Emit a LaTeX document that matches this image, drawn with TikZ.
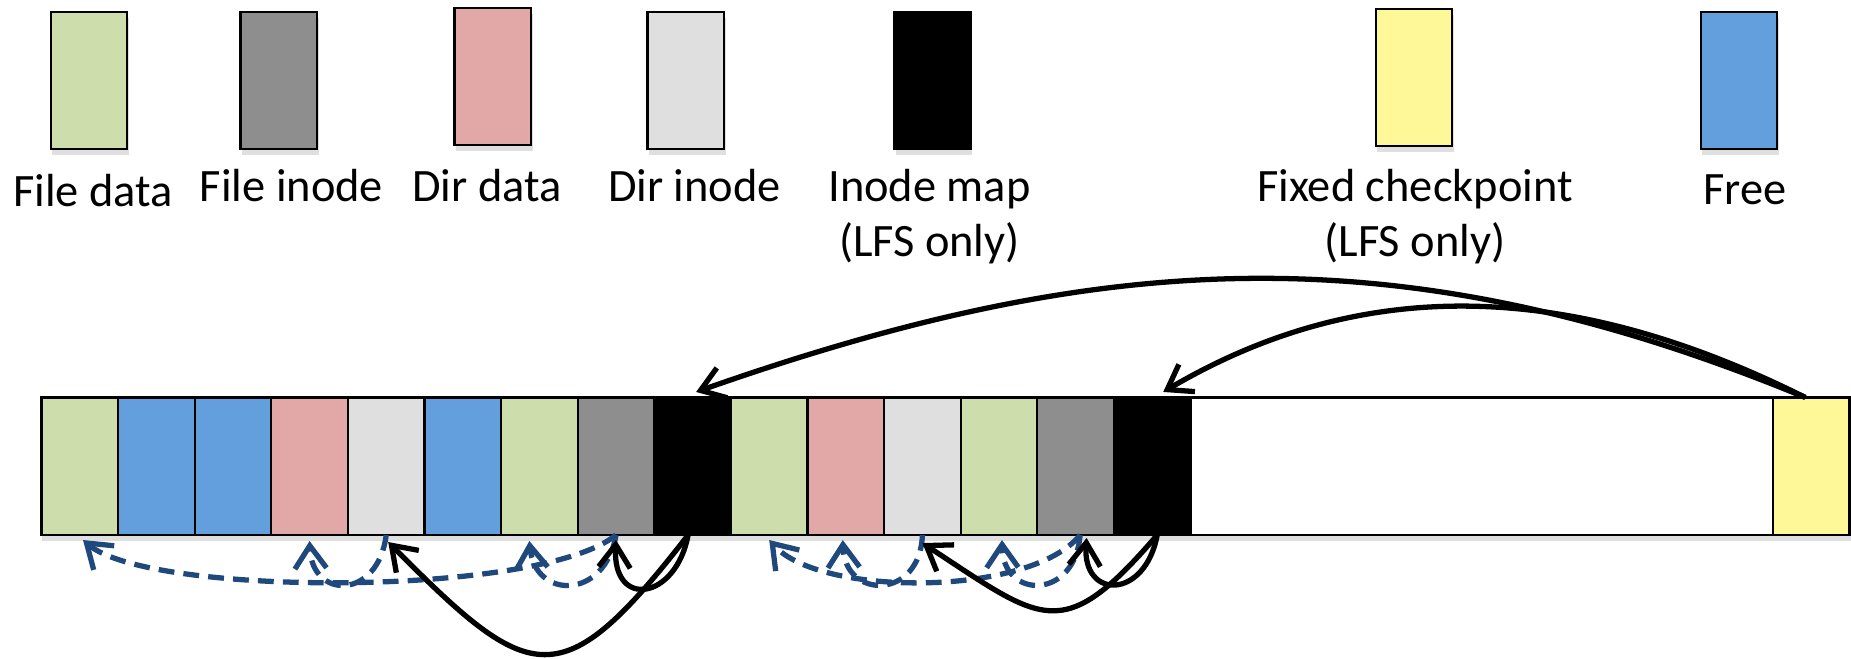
\documentclass[tikz,border=0pt]{standalone}
\usepackage{fontspec}
\setmainfont{Carlito}
\usetikzlibrary{arrows.meta,shadows}
\definecolor{cfdata}{RGB}{205,221,172}
\definecolor{cfinode}{RGB}{142,142,142}
\definecolor{cddata}{RGB}{226,167,167}
\definecolor{cdinode}{RGB}{223,223,223}
\definecolor{cckpt}{RGB}{255,248,153}
\definecolor{cfree}{RGB}{99,159,221}
\definecolor{cdash}{RGB}{31,73,125}
\begin{document}
\begin{tikzpicture}[x=0.01cm,y=-0.01cm,
  blk/.style={draw=black, line width=0.6pt, minimum width=0.766cm, minimum height=1.37cm, inner sep=0pt, outer sep=0pt},
  shd/.style={drop shadow={opacity=0.25,shadow xshift=0.4pt,shadow yshift=-1.6pt}},
  legbox/.style={blk, shd},
  lbl/.style={font=\fontsize{13.2}{15.6}\selectfont, anchor=base, inner sep=0pt},
  tipb/.style={-{Straight Barb[length=6.5pt,width=9pt]}},
  dsh/.style={draw=cdash, line width=1.5pt, dash pattern=on 4.5pt off 2.6pt, tipb},
  sol/.style={draw=black, line width=1.5pt, tipb}
]
\useasboundingbox (0,0) rectangle (1851,659);

% legend boxes
\node[legbox, fill=cfdata]  (kfd) at (89,80.5) {};
\node[legbox, fill=cfinode] (kfi) at (278.8,80.5) {};
\node[legbox, fill=cddata]  (kdd) at (492.8,76.5) {};
\node[legbox, fill=cdinode] (kdi) at (685.8,80.5) {};
\node[legbox, fill=black]   (kim) at (932.5,80.5) {};
\node[legbox, fill=cckpt]   (kck) at (1414,77.5) {};
\node[legbox, fill=cfree]   (kfr) at (1739,80.5) {};

% legend labels
\node[lbl] (tfd) at (93,207) {File data};
\node[lbl] (tfi) at (291.5,201.5) {File inode};
\node[lbl] (tdd) at (487,201.5) {Dir data};
\node[lbl] (tdi) at (694.5,201.5) {Dir inode};
\node[lbl] (tim) at (929.5,201.5) {\begin{tabular}[t]{@{}c@{}}Inode map\\(LFS only)\end{tabular}};
\node[lbl] (tck) at (1415,201.5) {\begin{tabular}[t]{@{}c@{}}Fixed checkpoint\\(LFS only)\end{tabular}};
\node[lbl] (tfr) at (1745,205) {Free};

% disk strip
\node[blk, shd, minimum width=18.078cm, minimum height=1.375cm, fill=white] (strip) at (945.4,466.25) {};
\foreach \c [count=\i] in {cfdata,cfree,cfree,cddata,cdinode,cfree,cfdata,cfinode,black,cfdata,cddata,cdinode,cfdata,cfinode,black}
  \node[blk, minimum height=1.375cm, fill=\c] (c\i) at ({41.5+76.6*(\i-0.5)},466.25) {};
\node[blk, minimum width=0.76cm, minimum height=1.375cm, fill=cckpt] (ck) at (1811.3,466.25) {};

% checkpoint -> inode maps
\draw[sol] ([xshift=-0.06cm]ck.north) .. controls (1400,230) and (1100,250) .. ([xshift=0.035cm,yshift=0.055cm]c9.north);
\draw[sol] ([xshift=-0.06cm]ck.north) .. controls (1580,285) and (1370,270) .. ([xshift=0.11cm,yshift=0.055cm]c15.north);

% inode -> data (dashed)
\draw[dsh] (c8.south) .. controls (540,597) and (150,597) .. ([xshift=0.032cm,yshift=-0.05cm]c1.south);
\draw[dsh] (c5.south) .. controls (378,600) and (312,600) .. ([yshift=-0.06cm]c4.south);
\draw[dsh] (c8.south) .. controls (605,600) and (535,600) .. ([xshift=-0.1cm,yshift=-0.06cm]c7.south);
\draw[dsh] ([xshift=0.045cm]c14.south) .. controls (1030,597) and (820,597) .. ([yshift=-0.05cm]c10.south);
\draw[dsh] (c12.south) .. controls (920,600) and (845,600) .. ([xshift=-0.03cm,yshift=-0.05cm]c11.south);
\draw[dsh] ([xshift=0.045cm]c14.south) .. controls (1075,600) and (1003,600) .. ([xshift=0.03cm,yshift=-0.05cm]c13.south);

% inode map -> inodes
\draw[sol] ([xshift=-0.045cm]c9.south) .. controls (561,699) and (531,686) .. ([xshift=0.02cm,yshift=-0.07cm]c5.south);
\draw[sol] ([xshift=-0.045cm]c9.south) .. controls (676,600) and (612,610) .. ([yshift=-0.05cm]c8.south);
\draw[sol] ([xshift=0.05cm]c15.south) .. controls (1062,646) and (1043,622) .. ([yshift=-0.08cm]c12.south);
\draw[sol] ([xshift=0.05cm]c15.south) .. controls (1145,600) and (1082,600) .. ([xshift=0.11cm,yshift=-0.03cm]c14.south);
\end{tikzpicture}
\end{document}
